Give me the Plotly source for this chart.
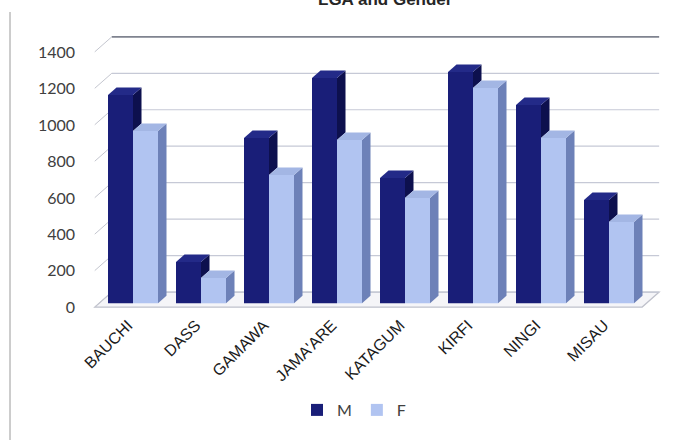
import plotly.graph_objects as go

# ---- data -------------------------------------------------------------
lgas = ["BAUCHI", "DASS", "GAMAWA", "JAMA'ARE", "KATAGUM", "KIRFI", "NINGI", "MISAU"]
male = [1143, 227, 907, 1236, 687, 1269, 1088, 567]
female = [945, 139, 704, 896, 578, 1181, 907, 446]
y_ticks = [0, 200, 400, 600, 800, 1000, 1200, 1400]

# ---- geometry of the pseudo-3D frame (pixels) --------------------------
W, H = 691, 440
left, right, top, bottom = 90, 665, 34, 315
px_per_cat = 68.0          # horizontal pixels per category
px_per_unit = 0.1823       # vertical pixels per data unit
cat0_px = 133.0            # x pixel of the first category (bar front plane)
zero_px = 303.3            # y pixel of value 0 (bar front plane)


def ux(p):
    """horizontal pixel offset -> x data units"""
    return p / px_per_cat


def uy(p):
    """vertical pixel offset (upwards) -> y data units"""
    return p / px_per_unit


x_range = [(left - cat0_px) / px_per_cat, (right - cat0_px) / px_per_cat]
y_range = [(zero_px - bottom) / px_per_unit, (zero_px - top) / px_per_unit]

bar_w = ux(25)
bar_dx, bar_dy = ux(8.5), uy(7.5)        # depth of a bar
front_dx, front_dy = ux(-4.25), uy(-3.75)  # floor front edge relative to bars
back_dx, back_dy = ux(12.75), uy(11.25)    # back wall relative to bars
x_lo, x_hi = -0.5, 7.55

m_front, m_top, m_side = "#191e78", "#232a88", "#0d104e"
f_front, f_top, f_side = "#b1c4f1", "#a3b6e4", "#6d81b8"
grid_col = "#c6c9d6"


def poly(pts):
    return "M " + " L ".join(f"{x:.4f},{y:.3f}" for x, y in pts) + " Z"


shapes = []

# floor
shapes.append(dict(
    type="path", xref="x", yref="y", layer="below",
    path=poly([(x_lo + front_dx, front_dy), (x_hi + front_dx, front_dy),
               (x_hi + back_dx, back_dy), (x_lo + back_dx, back_dy)]),
    fillcolor="#f5f5f8", line=dict(color="#bfc1cb", width=1.2)))

# back wall gridlines and left wall guide lines
for v in y_ticks:
    top_line = v == y_ticks[-1]
    shapes.append(dict(
        type="line", xref="x", yref="y", layer="below",
        x0=x_lo + back_dx, x1=x_hi + back_dx, y0=v + back_dy, y1=v + back_dy,
        line=dict(color="#7f838f" if top_line else grid_col,
                  width=1.6 if top_line else 1.2)))
    shapes.append(dict(
        type="line", xref="x", yref="y", layer="below",
        x0=x_lo + front_dx, x1=x_lo + back_dx, y0=v + front_dy, y1=v + back_dy,
        line=dict(color="#c4c6cf", width=1)))

# side and top faces of every bar
for i, (m, f) in enumerate(zip(male, female)):
    # male bar: [i - w, i]
    x0, x1 = i - bar_w, i
    shapes.append(dict(
        type="path", xref="x", yref="y", layer="above", line=dict(width=0),
        fillcolor=m_side,
        path=poly([(x1, min(f, m)), (x1 + bar_dx, min(f, m) + bar_dy),
                   (x1 + bar_dx, m + bar_dy), (x1, m)])))
    shapes.append(dict(
        type="path", xref="x", yref="y", layer="above", line=dict(width=0),
        fillcolor=m_top,
        path=poly([(x0, m), (x1, m), (x1 + bar_dx, m + bar_dy), (x0 + bar_dx, m + bar_dy)])))
    # female bar: [i, i + w]
    x0, x1 = i, i + bar_w
    shapes.append(dict(
        type="path", xref="x", yref="y", layer="above", line=dict(width=0),
        fillcolor=f_side,
        path=poly([(x1, 0), (x1 + bar_dx, bar_dy), (x1 + bar_dx, f + bar_dy), (x1, f)])))
    shapes.append(dict(
        type="path", xref="x", yref="y", layer="above", line=dict(width=0),
        fillcolor=f_top,
        path=poly([(x0, f), (x1, f), (x1 + bar_dx, f + bar_dy), (x0 + bar_dx, f + bar_dy)])))

# thin frame line on the left of the chart
shapes.append(dict(
    type="line", xref="paper", yref="paper",
    x0=(10 - left) / (right - left), x1=(10 - left) / (right - left),
    y0=(bottom - 12) / (bottom - top), y1=(bottom - H) / (bottom - top),
    line=dict(color="#9a9a9a", width=1)))

fig = go.Figure()
fig.add_trace(go.Bar(x=list(range(len(lgas))), y=male, name="M",
                     width=bar_w, offset=-bar_w,
                     marker=dict(color=m_front, line=dict(width=0))))
fig.add_trace(go.Bar(x=list(range(len(lgas))), y=female, name="F",
                     width=bar_w, offset=0,
                     marker=dict(color=f_front, line=dict(width=0))))

fig.update_layout(
    width=W, height=H,
    margin=dict(l=left, r=W - right, t=top, b=H - bottom, pad=0),
    paper_bgcolor="white", plot_bgcolor="white",
    barmode="overlay",
    shapes=shapes,
    showlegend=True,
    legend=dict(orientation="h", x=(354 - left) / (right - left), xanchor="center",
                y=(bottom - 410) / (bottom - top), yanchor="middle",
                font=dict(family="Lato", size=16, color="#404040"),
                itemwidth=30, bgcolor="rgba(0,0,0,0)"),
    annotations=[dict(
        text="<b>LGA and Gender</b>", xref="paper", yref="paper",
        x=(385 - left) / (right - left), y=1 + (top + 1) / (bottom - top),
        xanchor="center", yanchor="middle", showarrow=False,
        font=dict(family="Liberation Sans", size=17, color="#262626"))],
    xaxis=dict(range=x_range, tickvals=list(range(len(lgas))), ticktext=lgas,
               tickangle=-45, showgrid=False, zeroline=False, showline=False,
               ticks="", ticklabelshift=-5, ticklabelstandoff=-3,
               tickfont=dict(family="Liberation Sans", size=16, color="#1a1a1a")),
    yaxis=dict(range=y_range, tickvals=y_ticks, ticktext=[str(v) for v in y_ticks],
               showgrid=False, zeroline=False, showline=False, ticks="",
               ticklabelshift=4, ticklabelstandoff=14,
               tickfont=dict(family="Lato", size=16, color="#404040")),
)

fig.write_html("out.html")
